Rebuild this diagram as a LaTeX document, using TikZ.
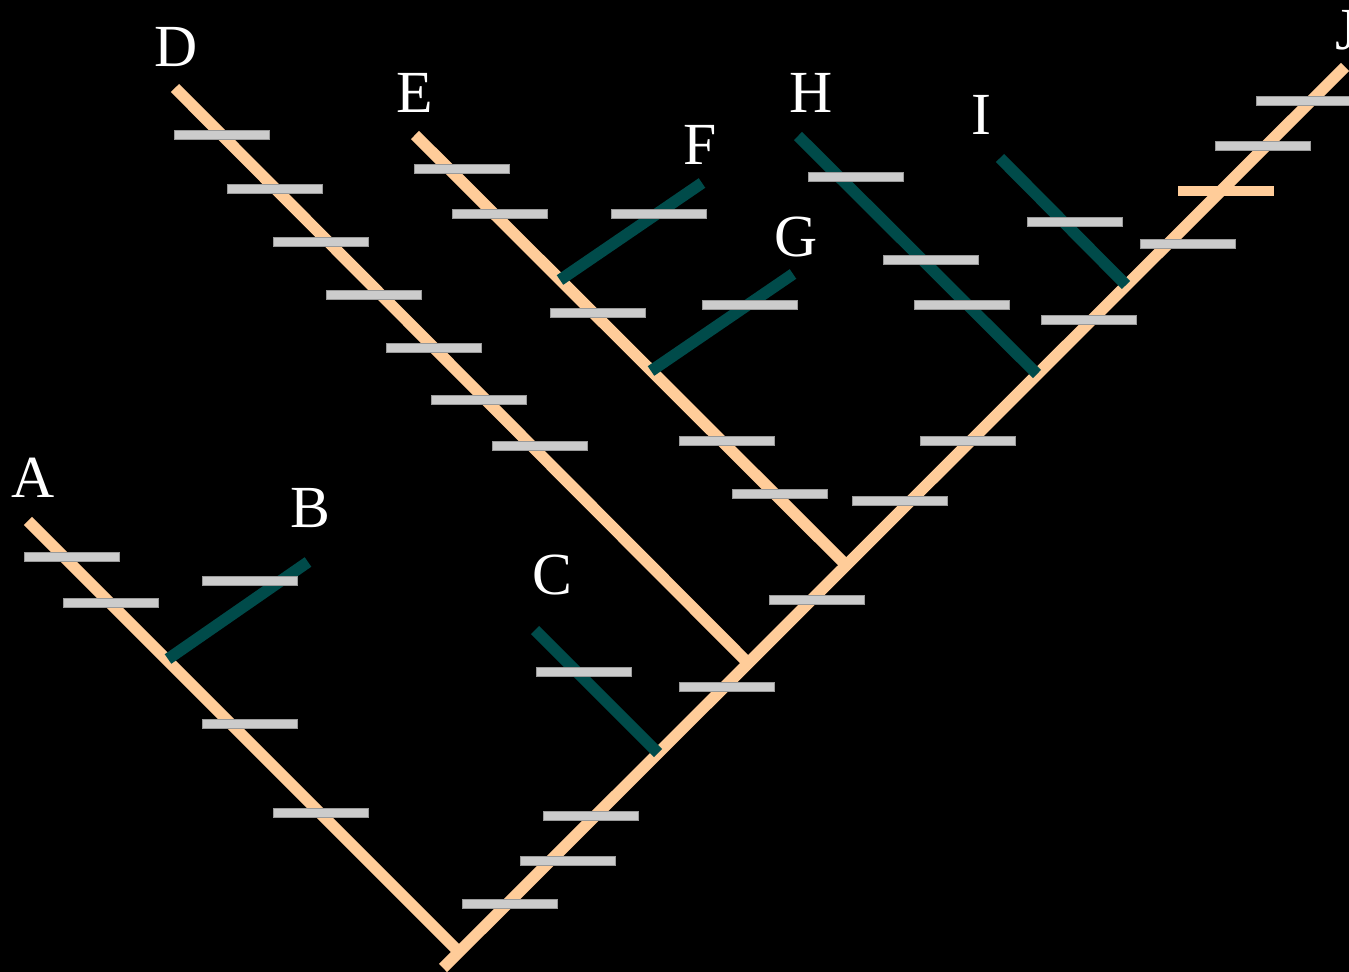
\documentclass[tikz,border=0pt]{standalone}
\usepackage{fontspec}
\setmainfont{Liberation Serif}
\usetikzlibrary{positioning}
\definecolor{peach}{HTML}{FFCC99}
\definecolor{deepteal}{HTML}{004B4A}
\definecolor{barfill}{HTML}{CCCCCC}
\definecolor{baredge}{HTML}{9A9A9A}
\begin{document}
\begin{tikzpicture}[x=0.02cm,y=-0.02cm,
 branch/.style={draw=peach,line width=6.6pt},
 sidebr/.style={draw=deepteal,line width=6.6pt},
 bar/.style={rectangle,draw=baredge,fill=barfill,line width=0.5pt,minimum width=1.9cm,minimum height=0.18cm,inner sep=0pt},
 peachbar/.style={bar,draw=peach,fill=peach},
 lab/.style={text=white,inner sep=0pt,font=\fontsize{34}{40}\selectfont}]
\fill[black] (0,0) rectangle (1349,972);
\useasboundingbox (0,0) rectangle (1349,972);

% branch points
\coordinate (base) at (443,968);
\coordinate (root) at (459,952);
\coordinate (jtip) at (1345,67);
\coordinate (atip) at (28,521);
\coordinate (bjoin) at (168,659);
\coordinate (btip) at (308,562);
\coordinate (ctip) at (535,630);
\coordinate (cjoin) at (658,753);
\coordinate (dtip) at (175,88);
\coordinate (djoin) at (748,663);
\coordinate (etip) at (415,135);
\coordinate (ejoin) at (846,565);
\coordinate (fjoin) at (560,280);
\coordinate (ftip) at (702,183);
\coordinate (gjoin) at (651,371);
\coordinate (gtip) at (793,274);
\coordinate (htip) at (798,136);
\coordinate (hjoin) at (1037,374);
\coordinate (itip) at (1000,158);
\coordinate (ijoin) at (1126,285);

\draw[branch] (base) -- (jtip);
\draw[branch] (atip) -- (root);
\draw[branch] (dtip) -- (djoin);
\draw[branch] (etip) -- (ejoin);
\draw[sidebr] (bjoin) -- (btip);
\draw[sidebr] (ctip) -- (cjoin);
\draw[sidebr] (fjoin) -- (ftip);
\draw[sidebr] (gjoin) -- (gtip);
\draw[sidebr] (htip) -- (hjoin);
\draw[sidebr] (itip) -- (ijoin);

% bars on A and B
\node[bar] (a1) at (72,557) {};
\node[bar] (a2) at (111,603) {};
\node[bar] (b1) at (250,581) {};
\node[bar] (a3) at (250,724) {};
\node[bar] (a4) at (321,813) {};
% bars on C
\node[bar] (c1) at (584,672) {};
% bars on D
\node[bar] (d1) at (222,135) {};
\node[bar] (d2) at (275,189) {};
\node[bar] (d3) at (321,242) {};
\node[bar] (d4) at (374,295) {};
\node[bar] (d5) at (434,348) {};
\node[bar] (d6) at (479,400) {};
\node[bar] (d7) at (540,446) {};
% bars on E, F, G
\node[bar] (e1) at (462,169) {};
\node[bar] (e2) at (500,214) {};
\node[bar] (e3) at (598,313) {};
\node[bar] (e4) at (727,441) {};
\node[bar] (e5) at (780,494) {};
\node[bar] (f1) at (659,214) {};
\node[bar] (g1) at (750,305) {};
% bars on H and I
\node[bar] (h1) at (856,177) {};
\node[bar] (h2) at (931,260) {};
\node[bar] (h3) at (962,305) {};
\node[bar] (i1) at (1075,222) {};
% bars on the main line
\node[bar] (t1) at (510,904) {};
\node[bar] (t2) at (568,861) {};
\node[bar] (t3) at (591,816) {};
\node[bar] (t4) at (727,687) {};
\node[bar] (t5) at (817,600) {};
\node[bar] (t6) at (900,501) {};
\node[bar] (t7) at (968,441) {};
\node[bar] (t8) at (1089,320) {};
\node[bar] (t9) at (1188,244) {};
\node[peachbar] (t10) at (1226,191) {};
\node[bar] (t11) at (1263,146) {};
\node[bar] (t12) at (1304,101) {};

% taxon labels
\node[lab] (la) at (33,478) {A};
\node[lab] (lb) at (310,508) {B};
\node[lab] (lc) at (552,575) {C};
\node[lab] (ld) at (176,47) {D};
\node[lab] (le) at (415,93) {E};
\node[lab] (lf) at (700,145) {F};
\node[lab] (lg) at (796,237) {G};
\node[lab] (lh) at (811,93) {H};
\node[lab] (li) at (981,115) {I};
\node[lab] (lj) at (1347,30) {J};
\end{tikzpicture}
\end{document}
